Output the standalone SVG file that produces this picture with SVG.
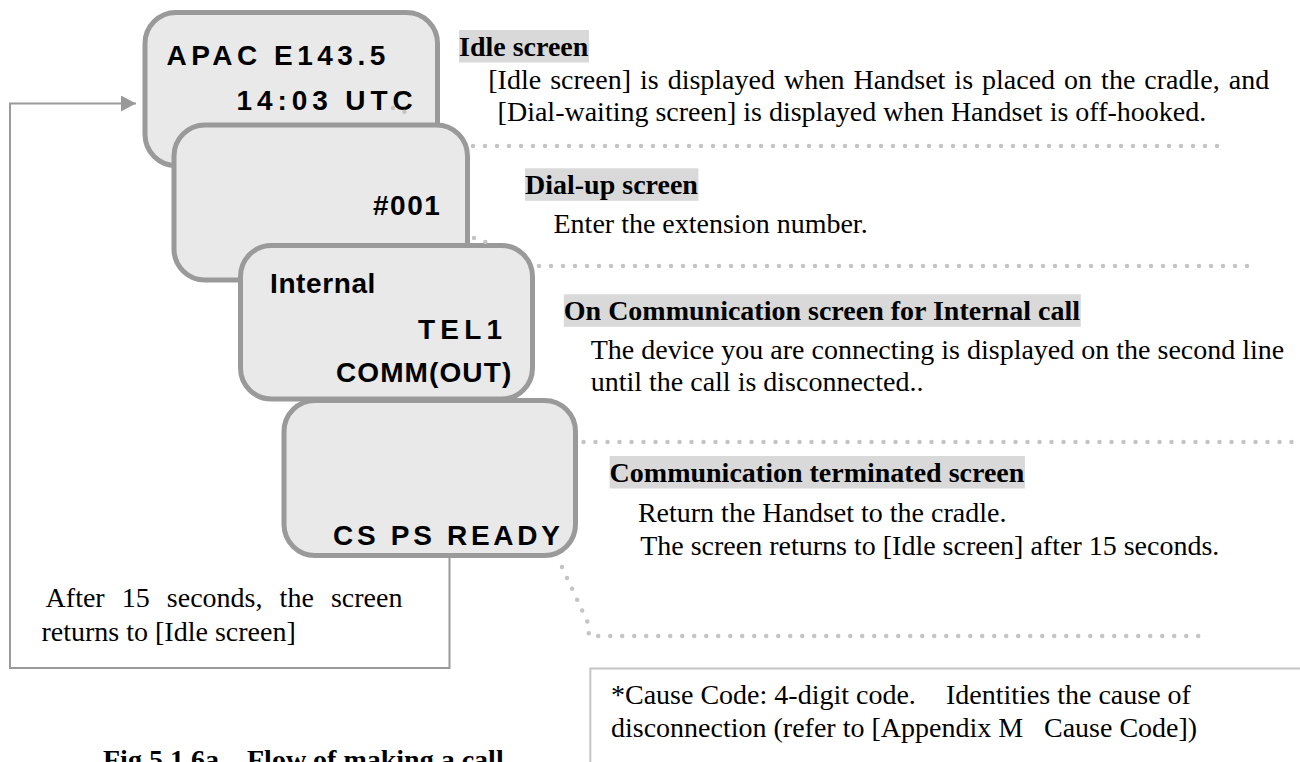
<svg xmlns="http://www.w3.org/2000/svg" width="1300" height="762" viewBox="0 0 1300 762">
<defs>
<style>
.scr{fill:#e9e9e9;stroke:#9a9a9a;stroke-width:5}
.lcd{font-family:"Liberation Sans",Arial,sans-serif;font-weight:bold;font-size:28px;fill:#000}
.body{font-family:"Liberation Serif","Times New Roman",serif;font-size:28px;fill:#000}
.head{font-family:"Liberation Serif","Times New Roman",serif;font-size:28px;font-weight:bold;fill:#000}
.hl{fill:#d9d9d9}
.dots{fill:none;stroke:#c4c4c4;stroke-width:4.5;stroke-linecap:round;stroke-dasharray:0 12}
.flow{fill:none;stroke:#9a9a9a;stroke-width:2}
</style>
<marker id="arrow" markerUnits="userSpaceOnUse" markerWidth="16" markerHeight="16" refX="15" refY="8" orient="auto">
<path d="M0,0 L15,8 L0,16 Z" fill="#9a9a9a"/>
</marker>
</defs>
<rect width="1300" height="762" fill="#fff"/>

<g id="screen-idle">
<rect class="scr" x="145" y="12.5" width="292.5" height="153" rx="31"/>
<text class="lcd" x="166.5" y="65" letter-spacing="4.5">APAC E143.5</text>
<text class="lcd" x="236.5" y="110" letter-spacing="4.9">14:03 UTC</text>
</g>

<g id="screen-dialup">
<rect class="scr" x="174" y="125" width="293.5" height="155" rx="31"/>
<text class="lcd" x="373" y="215" font-size="29" letter-spacing="1.5">#001</text>
</g>

<g id="screen-internal">
<rect class="scr" x="240.5" y="245.5" width="292" height="153.5" rx="31"/>
<text class="lcd" x="270" y="293" font-size="30" letter-spacing="0.6">Internal</text>
<text class="lcd" x="418" y="339" font-size="30" letter-spacing="5.2">TEL1</text>
<text class="lcd" x="336" y="381.5" font-size="30" letter-spacing="1.1">COMM(OUT)</text>
</g>

<g id="screen-terminated">
<rect class="scr" x="284" y="400.5" width="291.5" height="155" rx="31"/>
<text class="lcd" x="333" y="545" font-size="30" letter-spacing="3.7">CS PS READY</text>
</g>

<g id="connectors">
<path class="flow" d="M449.5,558 V668 H10 V103.5 H136" marker-end="url(#arrow)"/>
<path class="dots" d="M393,108 L405,112"/>
<path class="dots" d="M473,146 H1219"/>
<path class="dots" d="M474,238 L485.5,242"/>
<path class="dots" d="M539,266 H1249"/>
<path class="dots" d="M583.5,442 H1300"/>
<path class="dots" d="M562,567 L588,623 L589,636 H1204"/>
</g>

<g id="note-idle">
<rect class="hl" x="459" y="30" width="130" height="32.5"/>
<text class="head" x="459" y="55.7">Idle screen</text>
<text class="body" x="488.3" y="89.3" word-spacing="2">[Idle screen] is displayed when Handset is placed on the cradle, and</text>
<text class="body" x="497.6" y="120.7">[Dial-waiting screen] is displayed when Handset is off-hooked.</text>
</g>

<g id="note-dialup">
<rect class="hl" x="525" y="168.3" width="173.4" height="32.5"/>
<text class="head" x="525" y="194">Dial-up screen</text>
<text class="body" x="553.5" y="233.3">Enter the extension number.</text>
</g>

<g id="note-internal">
<rect class="hl" x="563.8" y="294.3" width="517" height="32.5"/>
<text class="head" x="563.8" y="320">On Communication screen for Internal call</text>
<text class="body" x="590.7" y="359.3">The device you are connecting is displayed on the second line</text>
<text class="body" x="590.7" y="390.7">until the call is disconnected..</text>
</g>

<g id="note-terminated">
<rect class="hl" x="609.6" y="456" width="415.3" height="32.5"/>
<text class="head" x="609.6" y="481.7">Communication terminated screen</text>
<text class="body" x="637.9" y="521.7">Return the Handset to the cradle.</text>
<text class="body" x="640.2" y="555">The screen returns to [Idle screen] after 15 seconds.</text>
</g>

<g id="note-return">
<text class="body" x="45.6" y="607.3" word-spacing="10.1">After 15 seconds, the screen</text>
<text class="body" x="41.5" y="640.7">returns to [Idle screen]</text>
</g>

<g id="note-cause">
<path d="M590.3,770 V668.5 H1300" fill="none" stroke="#c4c4c4" stroke-width="2"/>
<text class="body" x="611" y="704.3">*Cause Code: 4-digit code.<tspan x="946">Identities the cause of</tspan></text>
<text class="body" x="611" y="736.7">disconnection (refer to [Appendix M<tspan x="1044">Cause Code])</tspan></text>
</g>

<text class="head" x="103" y="769">Fig 5.1.6a<tspan x="247">Flow of making a call</tspan></text>
</svg>
